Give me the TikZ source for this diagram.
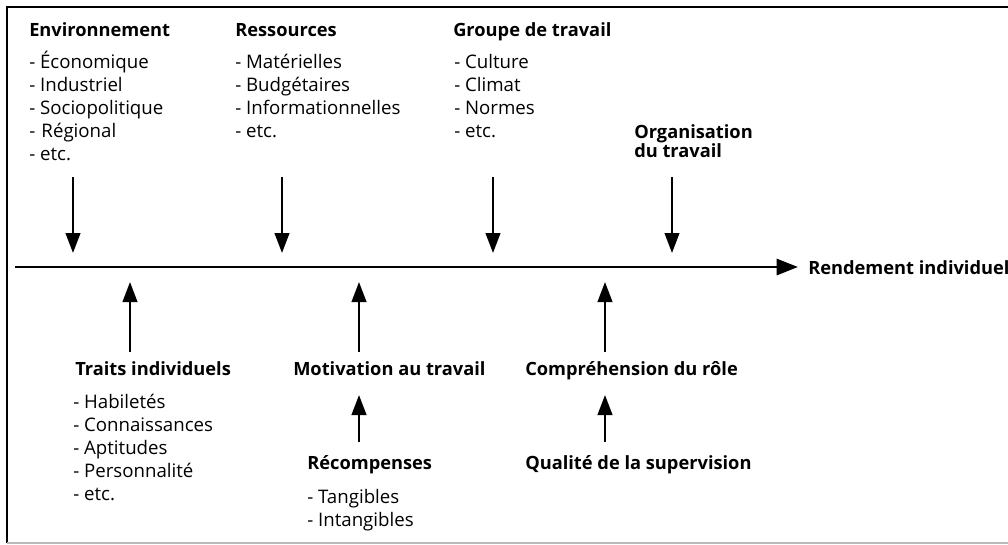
\documentclass[tikz,border=0pt]{standalone}
\usepackage{fontspec}
\setmainfont{Open Sans}
\usetikzlibrary{arrows.meta}

\tikzset{
  every node/.style={inner sep=0pt,anchor=base west,font=\fontsize{14}{16}\selectfont},
  titre/.style={font=\fontsize{13.7}{16}\selectfont\bfseries},
  fleche/.style={-{Triangle[length=15pt,width=11pt]},line width=1.5pt},
  axe/.style={-{Triangle[length=16pt,width=12pt]},line width=2.2pt},
}

\begin{document}
\begin{tikzpicture}[x=0.75pt,y=-0.75pt]
\useasboundingbox (0,0) rectangle (1008,544);
\def\ya{267}   % axe
\def\yh{36}    % titres du haut
\def\yb{375}   % titres du bas
\def\dy{23}    % interligne des listes

% cadre
\draw[line width=1.5pt] (7,543) -- (7,7) -- (1008,7);
\draw[line width=1.5pt,color=gray!55] (7,543) -- (1008,543);

% axe principal
\coordinate (depart) at (15,\ya);
\coordinate (fin) at (798,\ya);
\draw[axe] (depart) -- (fin);
\node[titre] (rendement) at (808,274) {Rendement individuel};

% facteurs du haut
\node[titre] (env) at (29,\yh) {Environnement};
\foreach \t [count=\i] in {- Économique,- Industriel,- Sociopolitique,-\,\,Régional,- etc.}
  \node (env\i) at (29,{68+\dy*(\i-1)}) {\t};

\node[titre] (res) at (235,\yh) {Ressources};
\foreach \t [count=\i] in {- Matérielles,- Budgétaires,- Informationnelles,- etc.}
  \node (res\i) at (235,{68+\dy*(\i-1)}) {\t};

\node[titre] (grp) at (453,\yh) {Groupe de travail};
\foreach \t [count=\i] in {- Culture,- Climat,- Normes,- etc.}
  \node (grp\i) at (454,{68+\dy*(\i-1)}) {\t};

\node[titre] (org) at (634,138) {Organisation};
\node[titre] (org2) at (634,157) {du travail};

% fleches vers le bas
\foreach \n/\x in {env/73,res/282,grp/493,org/672} {
  \coordinate (\n-h) at (\x,177);
  \coordinate (\n-b) at (\x,253);
  \draw[fleche] (\n-h) -- (\n-b);
}

% facteurs du bas
\node[titre] (traits) at (75,\yb) {Traits individuels};
\foreach \t [count=\i] in {- Habiletés,- Connaissances,- Aptitudes,- Personnalité,- etc.}
  \node (traits\i) at (73,{408+\dy*(\i-1)}) {\t};

\node[titre] (motiv) at (293,\yb) {Motivation au travail};
\node[titre] (comp) at (525,\yb) {Compréhension du rôle};

\node[titre] (recomp) at (307,469) {Récompenses};
\foreach \t [count=\i] in {- Tangibles,- Intangibles}
  \node (recomp\i) at (307,{503+\dy*(\i-1)}) {\t};

\node[titre] (qual) at (525,469) {Qualité de la supervision};

% fleches vers le haut
\foreach \n/\x in {traits/130,motiv/359,comp/605} {
  \coordinate (\n-b) at (\x,352);
  \coordinate (\n-h) at (\x,282);
  \draw[fleche] (\n-b) -- (\n-h);
}
\coordinate (recomp-b) at (359,442);
\coordinate (recomp-h) at (359,395);
\draw[fleche] (recomp-b) -- (recomp-h);
\coordinate (qual-b) at (605,442);
\coordinate (qual-h) at (605,395);
\draw[fleche] (qual-b) -- (qual-h);

\end{tikzpicture}
\end{document}
